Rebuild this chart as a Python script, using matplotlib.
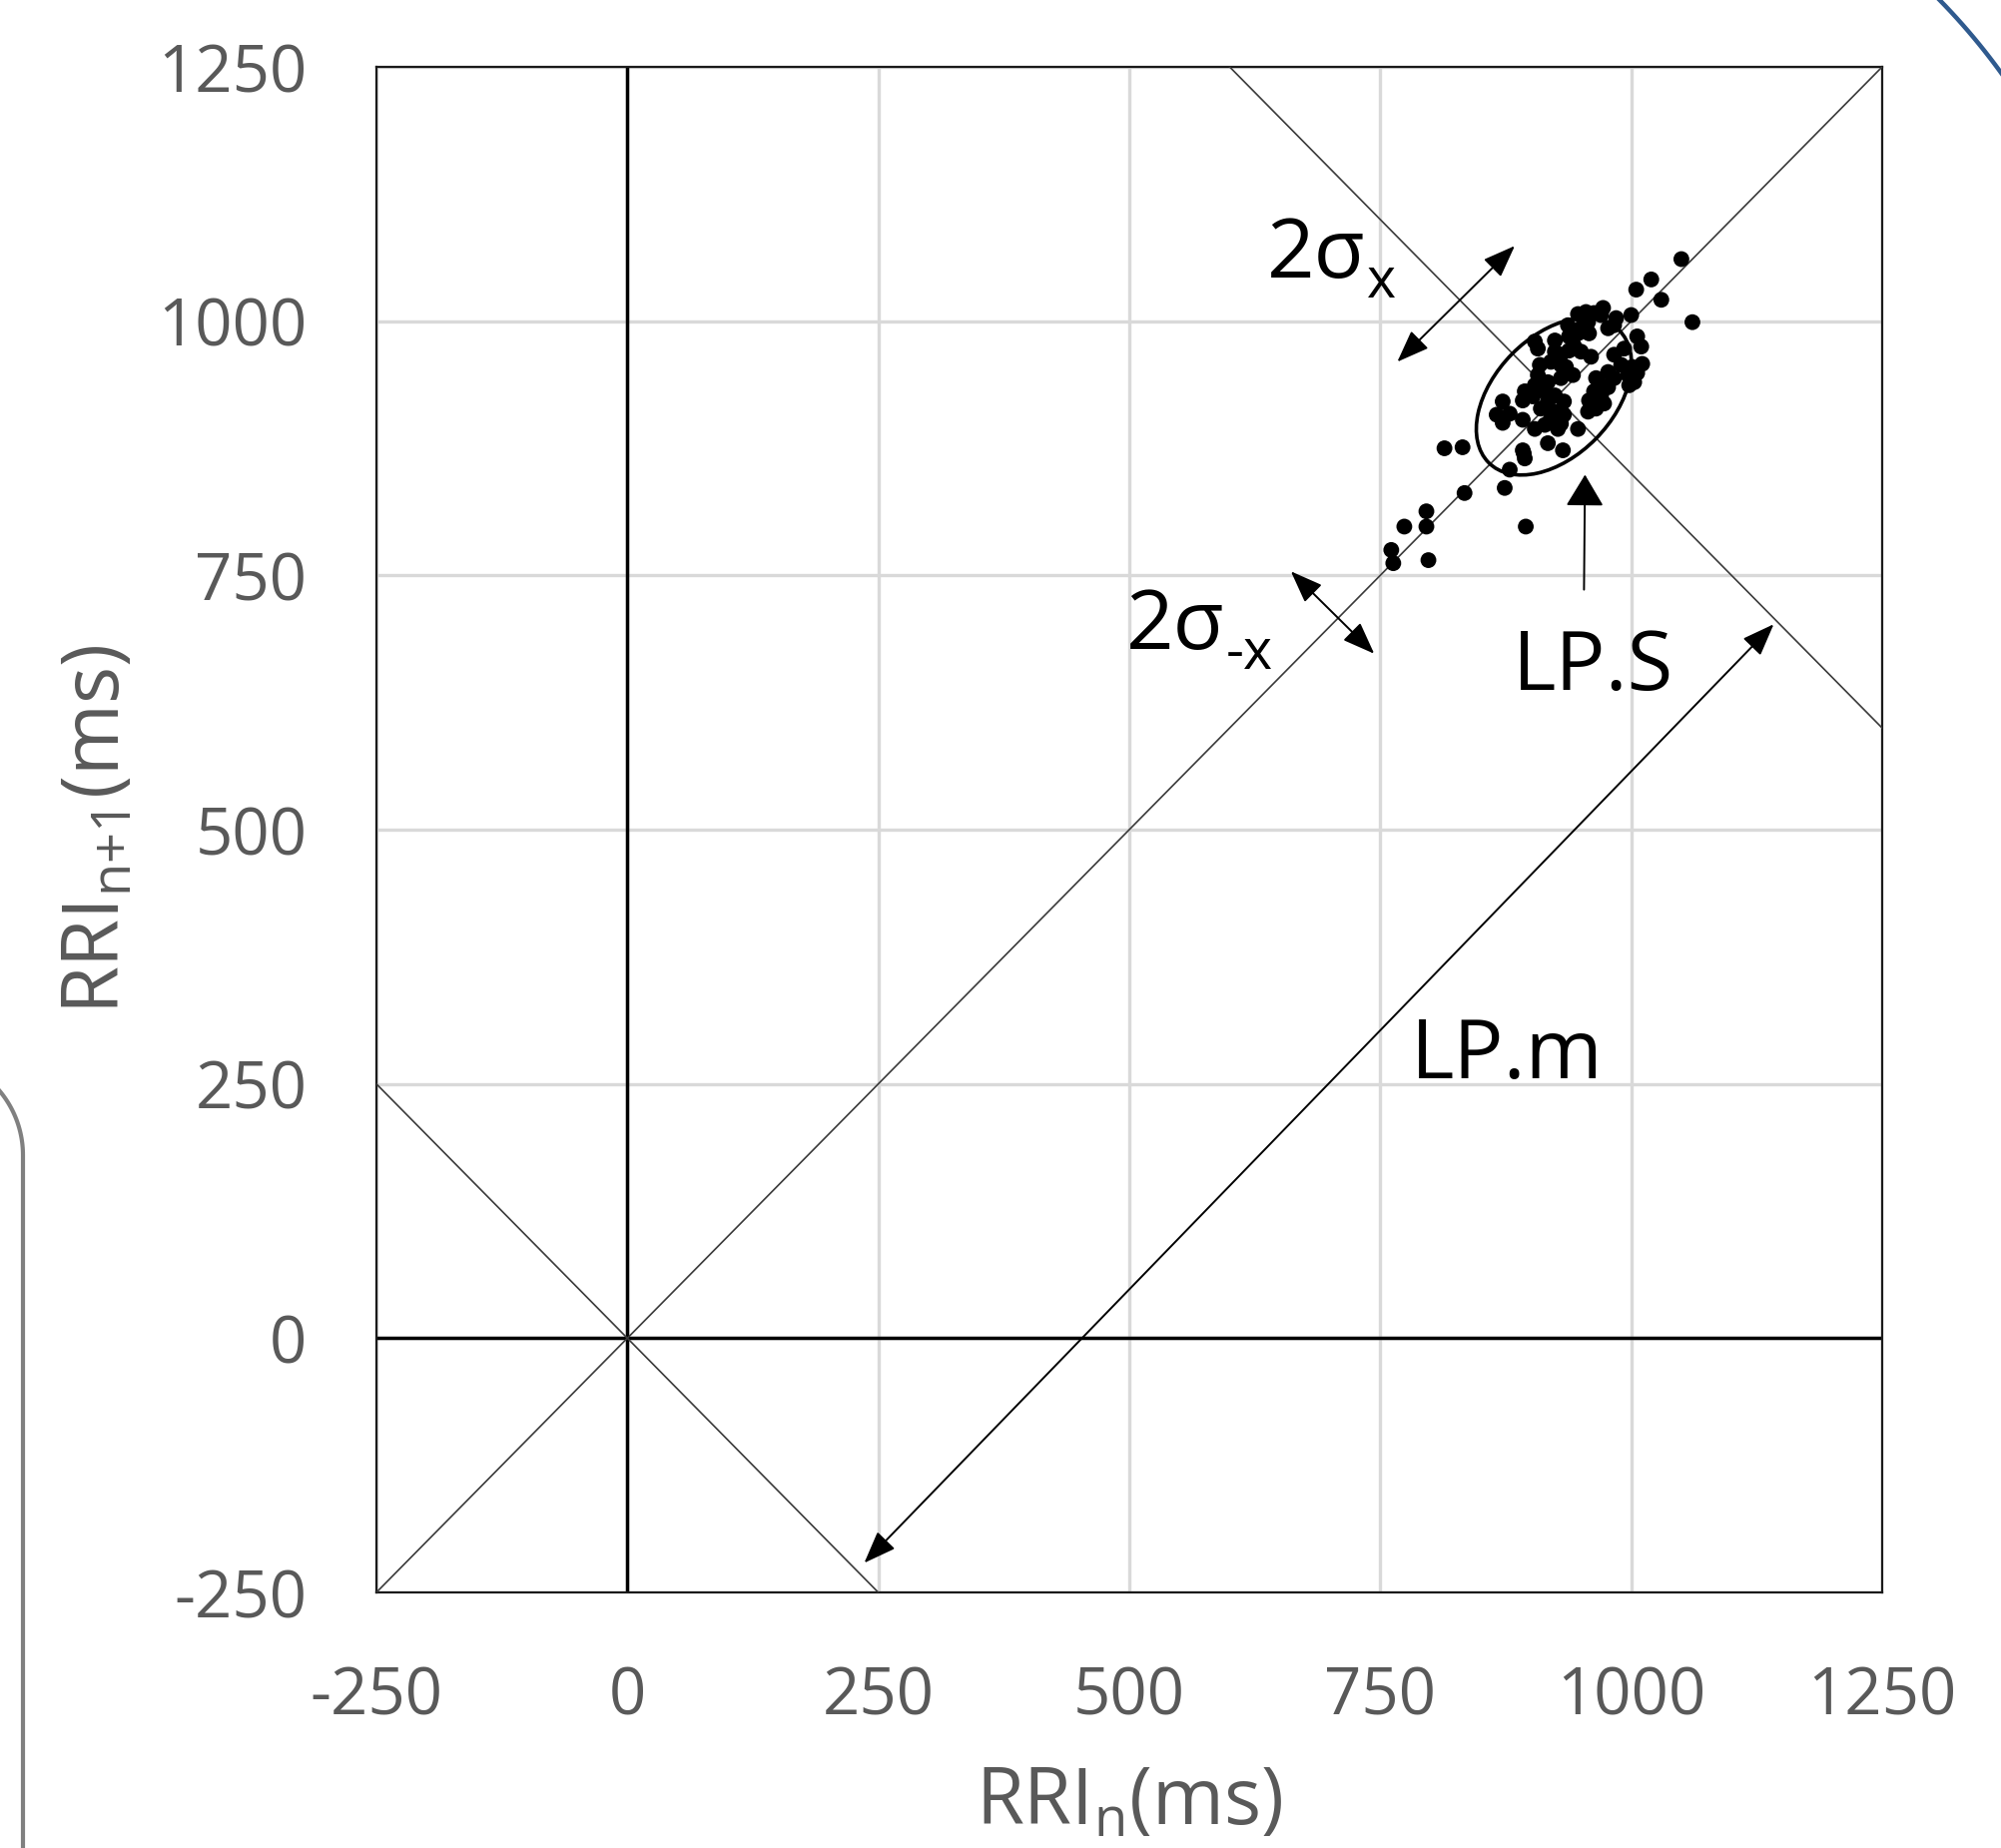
import numpy as np
import matplotlib
matplotlib.use("Agg")
import matplotlib.pyplot as plt
from matplotlib.patches import Ellipse, FancyArrowPatch
from matplotlib.lines import Line2D

plt.rcParams['font.family'] = ['Open Sans', 'DejaVu Sans']
plt.rcParams['mathtext.default'] = 'regular'
plt.rcParams['axes.unicode_minus'] = False

# Poincare plot: RRI(n) vs RRI(n+1), ms
rri_n = [1050, 1020, 1005, 1030, 1061, 1000, 985, 972, 947, 955, 963, 1006, 1010,
         1011, 1006, 1003, 993, 983, 977, 983, 970, 963, 958, 965, 957, 977, 958,
         947, 938, 924, 904, 907, 943, 938, 930, 920, 930, 960, 942, 907, 917, 904,
         894, 914, 924, 917, 910, 933, 924, 933, 927, 904, 892, 892, 872, 866, 879,
         872, 947, 917, 932, 892, 894, 879, 874, 832, 814, 834, 796, 796, 774, 895,
         761, 763, 798, 970, 973, 965, 1001, 983, 950, 937, 909, 930, 920, 930, 950,
         990, 997, 977, 957, 924, 902, 950, 970, 998, 935, 914, 893]
rri_n1 = [1061, 1041, 1031, 1021, 999, 1006, 1003, 1013, 1007, 1009, 1008, 985, 975,
          958, 949, 940, 973, 967, 950, 944, 937, 931, 922, 914, 999, 993, 988,
          988, 985, 981, 980, 973, 976, 971, 967, 960, 957, 965, 947, 947, 940, 937,
          931, 931, 927, 921, 914, 921, 911, 908, 894, 894, 903, 922, 921, 908, 909,
          900, 894, 880, 873, 873, 865, 854, 836, 876, 875, 831, 813, 798, 798, 798,
          775, 762, 765, 927, 919, 944, 955, 996, 993, 996, 957, 944, 904, 899, 970,
          957, 947, 935, 911, 970, 926, 1006, 1006, 937, 955, 898, 870]

ticks = [-250, 0, 250, 500, 750, 1000, 1250]

# reference lines
identity_x, identity_y = [-250, 1250], [-250, 1250]
anti_x, anti_y = [-250, 250], [250, -250]
perp_x, perp_y = [600, 1250], [1250, 600]

# SD ellipse
ell_center = (923, 926)
ell_major, ell_minor = 184, 118

# arrows: (start, end)
arrow_lpm = ((236, -221), (1142, 702))
arrow_sx = ((767, 960), (884, 1074))
arrow_smx = ((661, 754), (744, 673))
arrow_lps = ((953, 736), (954, 849))

fig = plt.figure(figsize=(20.04, 18.51), dpi=100)
ax = fig.add_axes([0.1881, 0.1383, 0.7525, 0.8255])
ax.set_xlim(-250, 1250)
ax.set_ylim(-250, 1250)
ax.set_xticks(ticks)
ax.set_yticks(ticks)
ax.grid(True, color='#d9d9d9', lw=2.4, zorder=0)
ax.set_axisbelow(True)
ax.tick_params(length=0, labelsize=47, labelcolor='#595959')
ax.tick_params(axis='x', pad=52)
ax.tick_params(axis='y', pad=50)
for s in ax.spines.values():
    s.set_color('#1a1a1a')
    s.set_linewidth(1.6)

ax.axhline(0, color='black', lw=2.5, zorder=2)
ax.axvline(0, color='black', lw=2.5, zorder=2)

for xs, ys in [(identity_x, identity_y), (anti_x, anti_y), (perp_x, perp_y)]:
    ax.plot(xs, ys, color='#3a3a3a', lw=1.2, zorder=3)

ax.add_patch(Ellipse(ell_center, ell_major, ell_minor, angle=45,
                     fill=False, ec='black', lw=2.6, zorder=4))
ax.scatter(rri_n, rri_n1, s=130, color='black', edgecolors='none', zorder=5)

for a, b in [arrow_lpm, arrow_sx, arrow_smx]:
    ax.add_patch(FancyArrowPatch(a, b, arrowstyle='<|-|>,head_length=1.0,head_width=0.38',
                                 mutation_scale=20, color='black', lw=1.4,
                                 shrinkA=0, shrinkB=0, zorder=6))
ax.add_patch(FancyArrowPatch(*arrow_lps, arrowstyle='-|>,head_length=1.0,head_width=0.6',
                             mutation_scale=20, color='black', lw=1.4,
                             shrinkA=0, shrinkB=0, zorder=6))

# "2σ" labels with plain-text subscripts
for (x, y), sub in [((637, 1043), 'x'), ((497, 678), '-x')]:
    main = ax.text(x, y, '2σ', fontsize=60, color='black', ha='left', va='baseline', zorder=7)
    ax.annotate(sub, xy=(1, 0), xycoords=main, xytext=(1, 0), textcoords='offset points',
                fontsize=40, color='black', ha='left', va='baseline', zorder=7)

ax.text(882, 637, 'LP.S', fontsize=60, color='black', ha='left', va='baseline', zorder=7)
ax.text(780, 256, 'LP.m', fontsize=60, color='black', ha='left', va='baseline', zorder=7)

ax.set_xlabel(r'RRI$_{n}$(ms)', fontsize=56, color='#595959')
ax.xaxis.set_label_coords(0.5, -0.113)
ax.set_ylabel(r'RRI$_{n{+}1}$(ms)', fontsize=56, color='#595959')
ax.yaxis.set_label_coords(-0.158, 0.5)

# decorations from the surrounding page: blue arc top right, grey box edge left
W, H = 2004, 1851
t = np.linspace(np.radians(30), np.radians(75), 60)
cx, cy, r = 1481, 452, 646
fig.add_artist(Line2D((cx + r * np.cos(t)) / W, 1 - (cy - r * np.sin(t)) / H,
                      transform=fig.transFigure, color='#2f5a8e', lw=3.2))
t2 = np.linspace(0, np.radians(55), 40)
gx = np.concatenate([-77 + 100 * np.cos(t2[::-1]), [23, 23]])
gy = np.concatenate([1157 - 100 * np.sin(t2[::-1]), [1157, 1851]])
fig.add_artist(Line2D(gx / W, 1 - gy / H, transform=fig.transFigure,
                      color='#808080', lw=3.0))

fig.savefig('out.png', dpi=100)
